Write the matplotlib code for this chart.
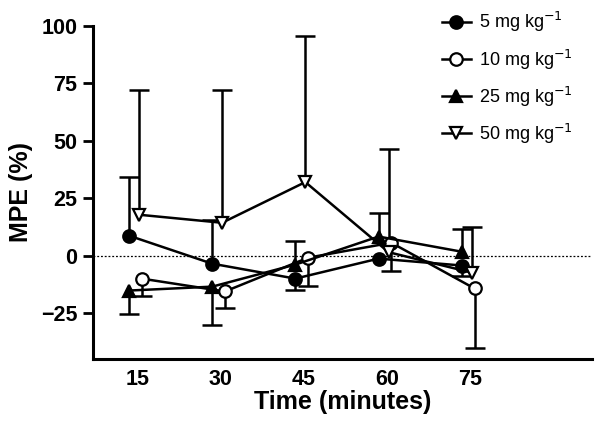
import numpy as np
import matplotlib
matplotlib.use("Agg")
import matplotlib.pyplot as plt

plt.rcParams['font.family'] = ['Liberation Sans', 'DejaVu Sans']

time = [15, 30, 45, 60, 75]
labels = ["5 mg kg$^{-1}$", "10 mg kg$^{-1}$", "25 mg kg$^{-1}$", "50 mg kg$^{-1}$"]

mpe_5 = [8.7, -3.5, -10.0, -1.3, -4.3]
mpe_10 = [-10.0, -15.6, -0.9, 5.6, -14.3]
mpe_25 = [-15.2, -13.5, -3.9, 8.3, 1.7]
mpe_50 = [17.8, 14.3, 32.0, 1.5, -7.4]

# one-sided error bar end values (nan = no visible bar)
err_5 = [34.0, 15.6, -14.8, np.nan, -8.7]
err_10 = [-17.7, -22.6, -13.4, -6.5, -40.0]
err_25 = [-25.2, -30.4, 6.5, 18.7, 11.7]
err_50 = [72.2, 72.2, 95.6, 46.5, 12.6]

offsets = [-1.5, 0.8, -1.5, 0.3]
markers = ['o', 'o', '^', 'v']
faces = ['black', 'white', 'black', 'white']

fig = plt.figure(figsize=(6.03, 4.30), dpi=100)
ax = fig.add_axes([0.154, 0.165, 0.828, 0.775])

series = [mpe_5, mpe_10, mpe_25, mpe_50]
errs = [err_5, err_10, err_25, err_50]

ax.axhline(0, color='black', lw=0.9, ls=(0, (1.5, 1.5)), zorder=1)

for vals, ends, off, m, fc, lab in zip(series, errs, offsets, markers, faces, labels):
    x = np.array(time, dtype=float) + off
    y = np.array(vals)
    e = np.array(ends)
    ok = ~np.isnan(e)
    ax.vlines(x[ok], y[ok], e[ok], color='black', lw=1.8, zorder=2)
    ax.plot(x[ok], e[ok], ls='none', marker='_', ms=14, mew=1.8, color='black', zorder=2)
    ax.plot(x, y, color='black', lw=1.8, marker=m, ms=9,
            mfc=fc, mec='black', mew=1.6, zorder=3, label=lab)

ax.set_xlim(7, 97)
ax.set_ylim(-45, 100)
ax.set_xticks(time)
ax.set_xticklabels([str(t) for t in time])
ax.set_yticks([-25, 0, 25, 50, 75, 100])
ax.set_yticklabels(['\u221225', '0', '25', '50', '75', '100'])

for s in ['top', 'right']:
    ax.spines[s].set_visible(False)
for s in ['left', 'bottom']:
    ax.spines[s].set_linewidth(2.2)

ax.tick_params(axis='x', length=0, pad=7, labelsize=15.5)
ax.tick_params(axis='y', length=7, width=2, direction='out', pad=4, labelsize=15.5)
for t in ax.get_xticklabels() + ax.get_yticklabels():
    t.set_fontweight('bold')

ax.set_xlabel('Time (minutes)', fontsize=18, fontweight='bold', labelpad=0)
ax.set_ylabel('MPE (%)', fontsize=18, fontweight='bold', labelpad=6)

leg = ax.legend(loc='upper right', bbox_to_anchor=(0.993, 1.095), frameon=False,
                fontsize=13, handlelength=1.6, labelspacing=0.72, handletextpad=0.45)

fig.savefig('out.png', dpi=100)
